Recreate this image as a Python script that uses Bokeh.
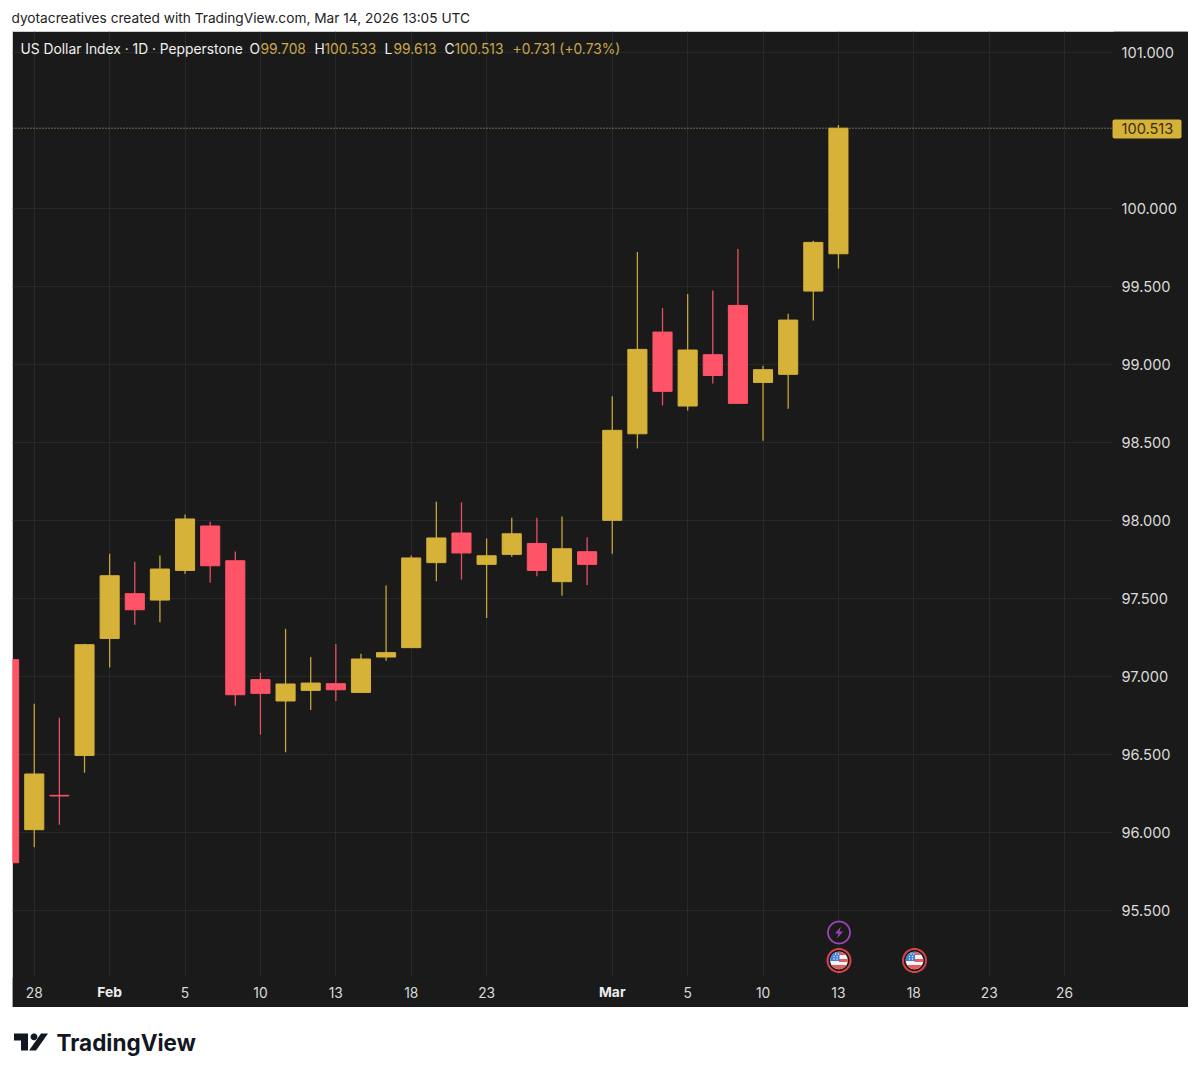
import math
from bokeh.plotting import figure
from bokeh.layouts import column
from bokeh.models import (BoxAnnotation, ColumnDataSource, FixedTicker, Label,
                          NumeralTickFormatter, PolyAnnotation, Span, LinearAxis)
from bokeh.embed import file_html
from bokeh.resources import INLINE

bar_index = list(range(-1, 33))
opens = [97.106, 96.016, 96.236, 96.492, 97.242, 97.529, 97.488, 97.678, 97.963, 97.74, 96.978, 96.841,
         96.909, 96.952, 96.896, 97.123, 97.183, 97.728, 97.918, 97.717, 97.781, 97.851, 97.606, 97.798,
         97.999, 98.554, 99.206, 98.732, 99.061, 99.377, 98.883, 98.935, 99.469, 99.708]
closes = [95.804, 96.373, 96.232, 97.202, 97.644, 97.426, 97.687, 98.008, 97.708, 96.881, 96.89, 96.95,
          96.956, 96.913, 97.11, 97.151, 97.758, 97.886, 97.79, 97.772, 97.913, 97.678, 97.817, 97.717,
          98.576, 99.095, 98.826, 99.091, 98.928, 98.749, 98.965, 99.283, 99.781, 100.513]
highs = [97.15, 96.824, 96.734, 97.208, 97.785, 97.734, 97.774, 98.037, 97.99, 97.8, 97.022, 97.303,
         97.123, 97.206, 97.144, 97.582, 97.774, 98.119, 98.114, 97.883, 98.016, 98.016, 98.024, 97.89,
         98.794, 99.719, 99.36, 99.45, 99.473, 99.738, 98.99, 99.324, 99.792, 100.533]
lows = [95.78, 95.903, 96.048, 96.381, 97.056, 97.33, 97.345, 97.657, 97.599, 96.811, 96.625, 96.512,
        96.783, 96.841, 96.896, 97.099, 97.183, 97.608, 97.619, 97.373, 97.766, 97.64, 97.516, 97.585,
        97.785, 98.46, 98.736, 98.704, 98.877, 98.745, 98.51, 98.715, 99.281, 99.613]

tick_positions = [0, 6, 9, 12, 15, 18, 26, 29, 32, 35, 38, 41]
tick_labels = ["28", "5", "10", "13", "18", "23", "5", "10", "13", "18", "23", "26"]
bold_positions = [3, 23]
bold_labels = ["Feb", "Mar"]
price_ticks = [95.5, 96, 96.5, 97, 97.5, 98, 98.5, 99, 99.5, 100, 101]
last_close = 100.513

GOLD, RED, BG = "#D6B239", "#FF5468", "#1A1A1A"
WICK_GOLD, WICK_RED = "#C4A43C", "#E84F61"
FONT = "Inter"
AXIS_TEXT = "#DADADA"
PANEL_X, PANEL_Y = 12, 31


def blank(height):
    f = figure(width=1192, height=height, output_backend="svg", toolbar_location=None,
               x_axis_location=None, y_axis_location=None, x_range=(0, 1), y_range=(0, 1),
               min_border=0, outline_line_color=None)
    f.grid.visible = False
    return f


header = blank(31)
footer = blank(61)

p = figure(width=1176, height=976, frame_width=1176, frame_height=976,
           output_backend="svg", toolbar_location=None,
           x_range=(-0.866, 45.93), y_range=(94.876, 101.133), x_axis_location="below", y_axis_location="right",
           min_border=0, background_fill_color=BG, border_fill_color=BG, outline_line_color="#d0d0d0",
           margin=(0, 0, 0, PANEL_X))

all_x = sorted(tick_positions + bold_positions)
for g, ticks in ((p.xgrid[0], all_x), (p.ygrid[0], price_ticks)):
    g.ticker = FixedTicker(ticks=ticks)
    g.grid_line_color = "#282828"
    g.grid_line_width = 1

STYLE = dict(axis_line_color=None, major_tick_line_color=None, minor_tick_line_color=None,
             major_label_text_font=FONT)

ax = p.xaxis[0]
ax.ticker = FixedTicker(ticks=tick_positions)
ax.major_label_overrides = dict(zip(tick_positions, tick_labels))
ax.major_label_standoff = -27
ax.major_label_text_color = AXIS_TEXT
ax.major_label_text_font_size = "13.8px"
for k, v in STYLE.items():
    setattr(ax, k, v)

bx = LinearAxis(ticker=FixedTicker(ticks=bold_positions),
                major_label_overrides=dict(zip(bold_positions, bold_labels)),
                major_label_standoff=-30, major_label_text_color="#EDEDED", major_label_text_font_style="bold",
                major_label_text_font_size="13.8px", **STYLE)
p.add_layout(bx, "below")

ay = p.yaxis[0]
ay.ticker = FixedTicker(ticks=price_ticks)
ay.formatter = NumeralTickFormatter(format="0.000")
ay.major_label_standoff = -73
ay.major_label_text_color = AXIS_TEXT
ay.major_label_text_font_size = "14.6px"
for k, v in STYLE.items():
    setattr(ay, k, v)

py = LinearAxis(ticker=FixedTicker(ticks=[last_close]), formatter=NumeralTickFormatter(format="0.000"),
                major_label_standoff=-73, major_label_text_color="#3B2E0A", major_label_text_font_size="14.6px",
                **STYLE)
p.add_layout(py, "right")

# last-price dotted line, then the axis strips that hide the grid ends
p.add_layout(Span(location=last_close, dimension="width", line_color="#D9C88A", line_alpha=0.9, line_width=1,
                  line_dash="1 2", level="underlay"))


def box(l, r, t, b, color):
    p.add_layout(BoxAnnotation(left=l - PANEL_X, right=r - PANEL_X, top=t - PANEL_Y, bottom=b - PANEL_Y,
                               left_units="canvas", right_units="canvas", top_units="canvas", bottom_units="canvas",
                               fill_color=color, fill_alpha=1, line_color=None, level="underlay", border_radius=2))


box(1112, 1188, 31, 1007, BG)
box(12, 1188, 976, 1007, BG)
box(1112, 1181, 119, 138, GOLD)

src = ColumnDataSource(dict(
    x=bar_index, o=opens, c=closes, h=highs, l=lows,
    top=[max(a, b) for a, b in zip(opens, closes)],
    bot=[min(a, b) for a, b in zip(opens, closes)],
    col=[GOLD if c > o else RED for o, c in zip(opens, closes)],
    wick=[WICK_GOLD if c > o else WICK_RED for o, c in zip(opens, closes)],
))
p.segment("x", "h", "x", "l", source=src, line_color="wick", line_width=1.3)
p.vbar("x", width=0.76, top="top", bottom="bot", source=src, fill_color="col", line_color="col", line_width=1)


def lab(f, x, y, text, color, size="13.5px", style="normal"):
    f.add_layout(Label(x=x, y=y, x_units="canvas", y_units="canvas", text=text, text_color=color,
                       text_font=FONT, text_font_size=size, text_font_style=style,
                       text_baseline="middle", text_align="left"))


lab(header, 11, 17, "dyotacreatives created with TradingView.com, Mar 14, 2026 13:05 UTC", "#222222", "13.7px")
HDR = "#C9A94A"
for x, t, c in [(20, "US Dollar Index · 1D · Pepperstone", "#F0F0F0"), (249, "O", "#F0F0F0"), (260, "99.708", HDR),
                (314, "H", "#F0F0F0"), (324, "100.533", HDR), (384, "L", "#F0F0F0"), (393, "99.613", HDR),
                (444, "C", "#F0F0F0"), (454, "100.513", HDR), (512, "+0.731 (+0.73%)", HDR)]:
    lab(p, x - PANEL_X, 48 - PANEL_Y, t, c, "13.8px")
lab(footer, 56, 35, "TradingView", "#131722", "22.5px", "bold")


def poly(f, xs, ys, color, dx=0, dy=0, line=None, lw=1):
    f.add_layout(PolyAnnotation(xs=[a - dx for a in xs], ys=[b - dy for b in ys], xs_units="canvas", ys_units="canvas",
                                fill_color=color, fill_alpha=1, line_color=line, line_alpha=1, line_width=lw,
                                level="overlay"))


def disc(f, cx, cy, r, color, dx=0, dy=0, line=None, lw=1):
    n = 48
    poly(f, [cx + r * math.cos(2 * math.pi * k / n) for k in range(n)],
         [cy + r * math.sin(2 * math.pi * k / n) for k in range(n)], color, dx, dy, line, lw)


def band(cx, cy, r, y0, y1, color, xmin=None, xmax=None):
    n = 8
    ys = [y0 + (y1 - y0) * k / n for k in range(n + 1)]
    lx = [cx - math.sqrt(max(r * r - (y - cy) ** 2, 0)) for y in ys]
    rx = [cx + math.sqrt(max(r * r - (y - cy) ** 2, 0)) for y in ys]
    if xmax is not None:
        rx = [min(v, xmax) for v in rx]
    if xmin is not None:
        lx = [max(v, xmin) for v in lx]
    poly(p, lx + rx[::-1], ys + ys[::-1], color, PANEL_X, PANEL_Y)


def flag(cx, cy):
    disc(p, cx, cy, 11.5, BG, PANEL_X, PANEL_Y, "#D8434B", 2)
    disc(p, cx, cy, 8.8, "#F4F4F4", PANEL_X, PANEL_Y)
    band(cx, cy, 8.8, cy - 8.8, cy - 5.5, "#E25B5E", xmin=cx)
    band(cx, cy, 8.8, cy - 1.6, cy + 1.4, "#E25B5E", xmin=cx)
    band(cx, cy, 8.8, cy + 4.4, cy + 8.8, "#E25B5E")
    band(cx, cy, 8.8, cy - 8.8, cy + 0.5, "#3D7FD9", xmax=cx + 0.5)
    for ox, oy in [(-5, -4), (-2, -4), (-5, -1.5), (-2, -1.5), (-3.5, -6.5), (-0.8, -6.5)]:
        disc(p, cx + ox, cy + oy, 0.7, "#F4F4F4", PANEL_X, PANEL_Y)


flag(838.5, 960)
flag(914, 960)
disc(p, 838.5, 932, 11, BG, PANEL_X, PANEL_Y, "#9A44B4", 1.8)
poly(p, [840.5, 834.5, 838, 836.5, 842.5, 839], [926, 933, 933, 938, 931, 931], "#9A44B4", PANEL_X, PANEL_Y)

# TradingView mark (footer coordinates)
DARK = "#131722"
poly(footer, [13.5, 27.5, 27.5, 20.5, 20.5, 13.5, 13.5], [26, 26, 43, 43, 33, 33, 26], DARK)
disc(footer, 33.5, 29.4, 3.4, DARK)
poly(footer, [40.5, 47.5, 35.5, 28.5], [26, 26, 43, 43], DARK)

open("out.html", "w").write(file_html(column(header, p, footer, spacing=0), INLINE))
